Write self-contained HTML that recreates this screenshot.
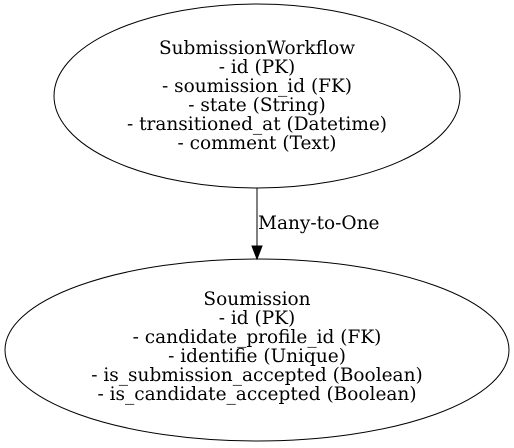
<!DOCTYPE html>
<html><head><meta charset="utf-8"><style>html,body{margin:0;padding:0;background:#fff}svg{display:block}</style></head>
<body>
<svg width="514" height="448" viewBox="0 0 514 448" xmlns="http://www.w3.org/2000/svg">
<rect width="514" height="448" fill="#fff"/>
<g font-family="DejaVu Serif, serif" font-size="18.5" text-anchor="middle" fill="#000">
<ellipse cx="257" cy="96" rx="203" ry="92" fill="none" stroke="#000" stroke-width="1"/>
<text x="257" y="54">SubmissionWorkflow</text>
<text x="257" y="73">- id (PK)</text>
<text x="257" y="92">- soumission_id (FK)</text>
<text x="257" y="111">- state (String)</text>
<text x="257" y="130">- transitioned_at (Datetime)</text>
<text x="257" y="149">- comment (Text)</text>
<line x1="257" y1="188" x2="257" y2="246" stroke="#000"/>
<polygon points="252,246 262,246 257,259" fill="#000" stroke="#000"/>
<text x="258" y="229" text-anchor="start">Many-to-One</text>
<ellipse cx="257" cy="350" rx="252" ry="91" fill="none" stroke="#000" stroke-width="1"/>
<text x="257" y="305">Soumission</text>
<text x="257" y="324">- id (PK)</text>
<text x="257" y="343">- candidate_profile_id (FK)</text>
<text x="257" y="362">- identifie (Unique)</text>
<text x="257" y="381">- is_submission_accepted (Boolean)</text>
<text x="257" y="400">- is_candidate_accepted (Boolean)</text>
</g>
</svg>
</body></html>
